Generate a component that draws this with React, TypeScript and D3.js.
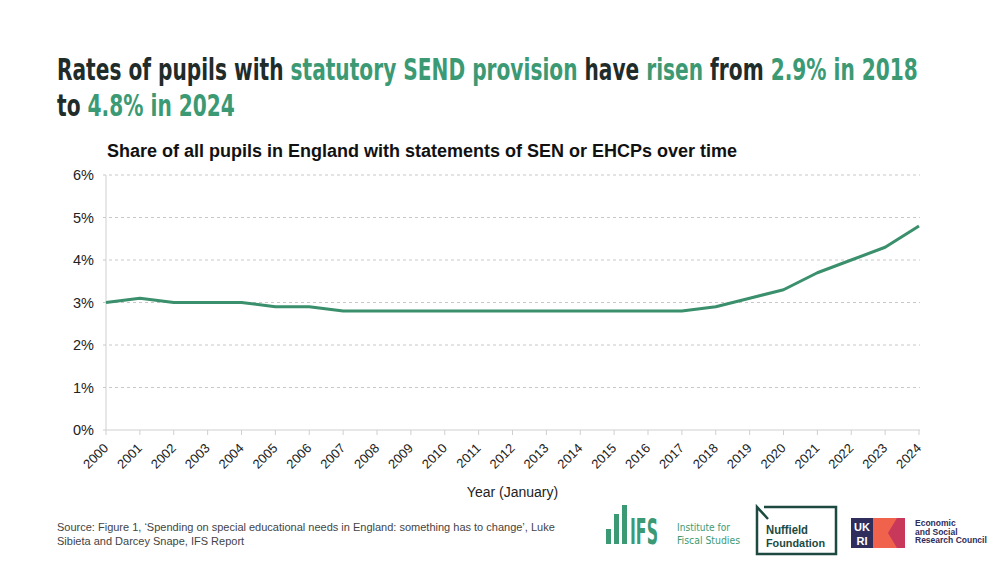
import React, { useLayoutEffect, useRef, useState } from "react";
import * as d3 from "d3";

const years = [2000,2001,2002,2003,2004,2005,2006,2007,2008,2009,2010,2011,2012,2013,2014,2015,2016,2017,2018,2019,2020,2021,2022,2023,2024];
const shares = [3.0,3.1,3.0,3.0,3.0,2.9,2.9,2.8,2.8,2.8,2.8,2.8,2.8,2.8,2.8,2.8,2.8,2.8,2.9,3.1,3.3,3.7,4.0,4.3,4.8];
const yTicks = [0,1,2,3,4,5,6];

const GREEN = "#3b9a74";
const DARK = "#1f2c2a";
const LINE = "#3a8f6c";

export default function App() {
  const left = 106, right = 919, top = 175, bottom = 430;
  const x = d3.scalePoint<number>().domain(years).range([left, right]);
  const y = d3.scaleLinear().domain([0, 6]).range([bottom, top]);
  const line = d3.line<number>().x((_, i) => x(years[i])!).y((d) => y(d));
  const font = "Liberation Sans, Arial, sans-serif";
  const tfont = "'DejaVu Sans Condensed', 'Liberation Sans Narrow', 'Roboto', sans-serif";

  const r1 = useRef<SVGTextElement>(null);
  const r2 = useRef<SVGTextElement>(null);
  const r3 = useRef<SVGTextElement>(null);
  const [s, setS] = useState<[number, number, number]>([1, 1, 0.55]);
  useLayoutEffect(() => {
    const w1 = r1.current ? r1.current.getComputedTextLength() : 0;
    const w2 = r2.current ? r2.current.getComputedTextLength() : 0;
    const w3 = r3.current ? r3.current.getComputedTextLength() : 0;
    if (w1 > 0 && w2 > 0 && w3 > 0) setS([861 / w1, 178 / w2, 28 / w3]);
  }, []);

  return (
    <svg width={1000} height={562} style={{ position: "absolute", left: 0, top: 0, background: "#fff" }}>
      <rect width={1000} height={562} fill="#fff" />
      {/* Title */}
      <g transform={`translate(57,80) scale(${s[0]},1)`}>
        <text ref={r1} x={0} y={0} fontFamily={tfont} fontWeight={700} fontSize={30} fill={DARK}>
          <tspan>Rates of pupils with </tspan>
          <tspan fill={GREEN}>statutory SEND provision</tspan>
          <tspan> have </tspan>
          <tspan fill={GREEN}>risen</tspan>
          <tspan> from </tspan>
          <tspan fill={GREEN}>2.9% in 2018</tspan>
        </text>
      </g>
      <g transform={`translate(57,116) scale(${s[1]},1)`}>
        <text ref={r2} x={0} y={0} fontFamily={tfont} fontWeight={700} fontSize={30} fill={DARK}>
          <tspan>to </tspan>
          <tspan fill={GREEN}>4.8% in 2024</tspan>
        </text>
      </g>
      {/* Subtitle */}
      <text x={107} y={157} fontFamily={font} fontWeight={700} fontSize={18} fill="#111">
        Share of all pupils in England with statements of SEN or EHCPs over time
      </text>
      {/* Grid */}
      {yTicks.filter(t => t > 0).map(t => (
        <line key={t} x1={103} x2={right + 1} y1={y(t)} y2={y(t)} stroke="#c8c8c8" strokeDasharray="3,3" strokeWidth={1} />
      ))}
      {yTicks.map(t => (
        <text key={t} x={94} y={y(t) + 5} textAnchor="end" fontFamily={font} fontSize={14.5} fill="#222">{t}%</text>
      ))}
      {/* Axes */}
      <line x1={left} x2={left} y1={top} y2={bottom} stroke="#cfcfcf" />
      <line x1={103} x2={right + 1} y1={bottom} y2={bottom} stroke="#cfcfcf" />
      {years.map(yr => (
        <line key={yr} x1={x(yr)} x2={x(yr)} y1={bottom} y2={bottom + 5} stroke="#cfcfcf" />
      ))}
      {years.map(yr => (
        <text key={yr} transform={`translate(${x(yr)! + 3},${bottom + 19}) rotate(-45)`} textAnchor="end" fontFamily={font} fontSize={13} fill="#222">{yr}</text>
      ))}
      <text x={(left + right) / 2} y={497} textAnchor="middle" fontFamily={font} fontSize={14} fill="#222">Year (January)</text>
      {/* Line */}
      <path d={line(shares) || ""} fill="none" stroke={LINE} strokeWidth={3} strokeLinejoin="round" />
      {/* Source */}
      <text fontFamily={font} fontSize={11} fill="#444">
        <tspan x={57} y={531}>Source: Figure 1, ‘Spending on special educational needs in England: something has to change’, Luke</tspan>
        <tspan x={57} y={545}>Sibieta and Darcey Snape, IFS Report</tspan>
      </text>
      {/* IFS logo */}
      <g fill={GREEN}>
        <rect x={606} y={529} width={5} height={15} />
        <rect x={614} y={514} width={5} height={30} />
        <rect x={622} y={505} width={5} height={39} />
        <g transform={`translate(630,544) scale(${s[2]},1)`}>
          <text ref={r3} x={0} y={0} fontFamily={tfont} fontWeight={700} fontSize={36}>IFS</text>
        </g>
        <text x={677} y={530.5} fontFamily={tfont} fontSize={11} textLength={53} lengthAdjust="spacingAndGlyphs">Institute for</text>
        <text x={677} y={544} fontFamily={tfont} fontSize={11} textLength={63} lengthAdjust="spacingAndGlyphs">Fiscal Studies</text>
      </g>
      {/* Nuffield logo */}
      <g>
        <path d="M764,507 L836,507 L836,554 L757,554 L757,507 L768,519" fill="none" stroke="#1d4a40" strokeWidth={2.5} strokeLinejoin="miter" />
        <text x={766} y={534} fontFamily={font} fontWeight={700} fontSize={12} textLength={42} lengthAdjust="spacingAndGlyphs" fill="#1d4a40">Nuffield</text>
        <text x={766} y={546.5} fontFamily={font} fontWeight={700} fontSize={11.5} textLength={59} lengthAdjust="spacingAndGlyphs" fill="#1d4a40">Foundation</text>
      </g>
      {/* UKRI logo */}
      <g>
        <rect x={851} y={518} width={22} height={30} fill="#2e2d5b" />
        <text x={862} y={531} textAnchor="middle" fontFamily={font} fontWeight={700} fontSize={11} fill="#fff">UK</text>
        <text x={862} y={545} textAnchor="middle" fontFamily={font} fontWeight={700} fontSize={11} fill="#fff">RI</text>
        <rect x={873} y={518} width={24} height={30} fill="#f0624c" />
        <path d="M897,518 L905,518 L905,548 L897,548 L888,533 Z" fill="#c8385a" />
        <text fontFamily={font} fontWeight={700} fontSize={8.5} fill="#2e2d5b">
          <tspan x={915} y={526}>Economic</tspan>
          <tspan x={915} y={534.5}>and Social</tspan>
          <tspan x={915} y={543}>Research Council</tspan>
        </text>
      </g>
    </svg>
  );
}
